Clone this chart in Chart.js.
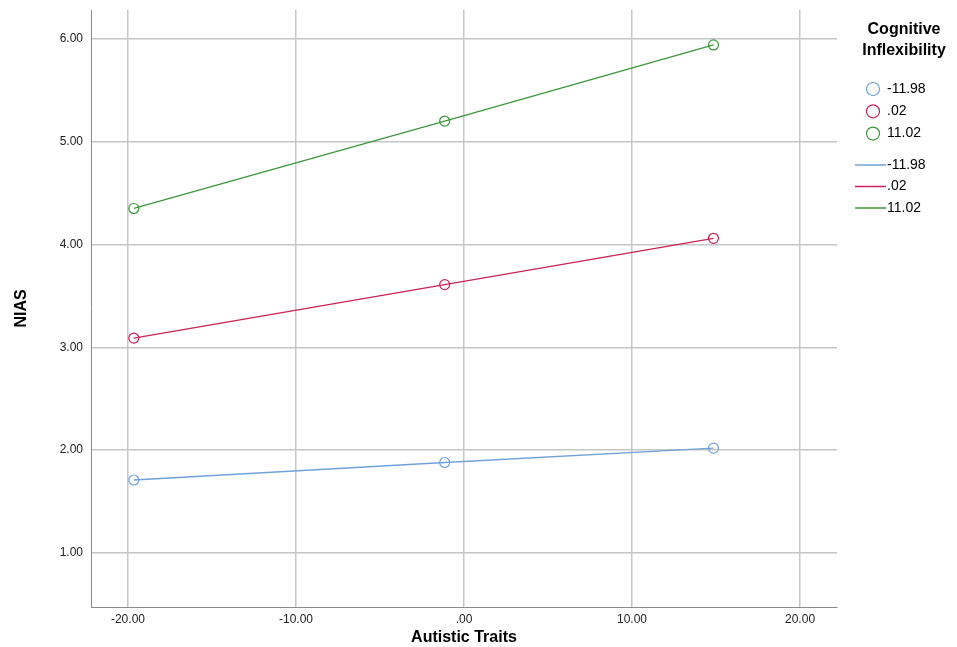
<!DOCTYPE html>
<html>
<head>
<meta charset="utf-8">
<title>NIAS by Autistic Traits</title>
<script src="https://cdn.jsdelivr.net/npm/chart.js@4.4.1/dist/chart.umd.min.js"></script>
<style>
    html, body { margin: 0; padding: 0; background: #fff; }
    #wrap { width: 957px; height: 647px; }
</style>
</head>
<body>
<div id="wrap"><canvas id="niasChart" width="957" height="647"></canvas></div>
<script>
// --- Data ---
const autisticTraits = [-19.65, -1.15, 14.85];   // x positions of the 3 points
const groupLabels = ['-11.98', '.02', '11.02'];  // Cognitive Inflexibility levels
const niasLow = [1.71, 1.88, 2.02];
const niasMid = [3.09, 3.61, 4.06];
const niasHigh = [4.35, 5.20, 5.94];
const groupColors = ['#72a1d9', '#c92452', '#3c963a'];

const xTickValues = [-20, -10, 0, 10, 20];
const xTickLabels = ['-20.00', '-10.00', '.00', '10.00', '20.00'];
const yTickValues = [1, 2, 3, 4, 5, 6];
const yTickLabels = ['1.00', '2.00', '3.00', '4.00', '5.00', '6.00'];

const FONT = '"Liberation Sans", Arial, sans-serif';

function toPoints(ys) {
    return autisticTraits.map((x, i) => ({ x: x, y: ys[i] }));
}

// SPSS draws markers and fit lines as separate series, so we do the same
const seriesValues = [niasLow, niasMid, niasHigh];
const markerSets = seriesValues.map((ys, i) => ({
    label: groupLabels[i],
    data: toPoints(ys),
    showLine: false,
    pointRadius: 5,
    pointHoverRadius: 5,
    pointBorderWidth: 1.2,
    pointBorderColor: groupColors[i],
    pointBackgroundColor: 'rgba(255,255,255,0)'
}));
const lineSets = seriesValues.map((ys, i) => ({
    label: groupLabels[i],
    data: toPoints(ys),
    showLine: true,
    borderColor: groupColors[i],
    borderWidth: 1.3,
    pointRadius: 0,
    tension: 0
}));

// Legend on the right, drawn on the canvas (markers first, then lines)
const sideLegend = {
    id: 'sideLegend',
    afterDraw(chart) {
        const ctx = chart.ctx;
        ctx.save();
        ctx.fillStyle = '#000';
        ctx.textBaseline = 'middle';
        ctx.textAlign = 'center';
        ctx.font = 'bold 16px ' + FONT;
        ctx.fillText('Cognitive', 904, 30);
        ctx.fillText('Inflexibility', 904, 51);

        ctx.font = '14px ' + FONT;
        ctx.textAlign = 'left';
        chart.data.datasets.forEach((ds, i) => {
            const color = groupColors[i % 3];
            let y;
            ctx.strokeStyle = color;
            if (ds.showLine === false) {
                y = 89 + i * 22.3;
                ctx.lineWidth = 1.2;
                ctx.beginPath();
                ctx.arc(873, y, 6.5, 0, Math.PI * 2);
                ctx.stroke();
            } else {
                y = 165 + (i - 3) * 21.5;
                ctx.lineWidth = 1.5;
                ctx.beginPath();
                ctx.moveTo(855, y);
                ctx.lineTo(886, y);
                ctx.stroke();
            }
            ctx.fillStyle = '#000';
            ctx.fillText(ds.label, 887, y);
        });
        ctx.restore();
    }
};

const ctx = document.getElementById('niasChart').getContext('2d');
new Chart(ctx, {
    type: 'scatter',
    data: { datasets: markerSets.concat(lineSets) },
    options: {
        responsive: false,
        animation: false,
        layout: { padding: { top: 10, right: 120, left: 0, bottom: 0 } },
        plugins: {
            legend: { display: false },
            tooltip: { enabled: false }
        },
        scales: {
            x: {
                type: 'linear',
                min: -22.2,
                max: 22.2,
                afterBuildTicks: (scale) => { scale.ticks = xTickValues.map(v => ({ value: v })); },
                afterFit: (scale) => { scale.height = 40; },
                ticks: {
                    color: '#222',
                    font: { family: FONT, size: 12 },
                    padding: 5,
                    maxRotation: 0,
                    callback: (v) => xTickLabels[xTickValues.indexOf(v)]
                },
                grid: { color: '#c6c6c6', lineWidth: 1.5, drawTicks: false },
                border: { color: '#8a8a8a', width: 1 },
                title: {
                    display: true,
                    text: 'Autistic Traits',
                    color: '#000',
                    font: { family: FONT, size: 16, weight: 'bold' },
                    padding: { top: 0, bottom: 0 }
                }
            },
            y: {
                type: 'linear',
                min: 0.475,
                max: 6.28,
                afterBuildTicks: (scale) => { scale.ticks = yTickValues.map(v => ({ value: v })); },
                afterFit: (scale) => {
                    scale.width = 91;
                    scale.paddingTop = 0; // let the plot start right at the layout padding
                },
                ticks: {
                    color: '#222',
                    font: { family: FONT, size: 12 },
                    padding: 8,
                    callback: (v) => yTickLabels[yTickValues.indexOf(v)]
                },
                grid: { color: '#c6c6c6', lineWidth: 1.5, drawTicks: false },
                border: { color: '#8a8a8a', width: 1 },
                title: {
                    display: true,
                    text: 'NIAS',
                    color: '#000',
                    font: { family: FONT, size: 16, weight: 'bold' },
                    padding: { top: 12, bottom: 0 }
                }
            }
        }
    },
    plugins: [sideLegend]
});
</script>
</body>
</html>
